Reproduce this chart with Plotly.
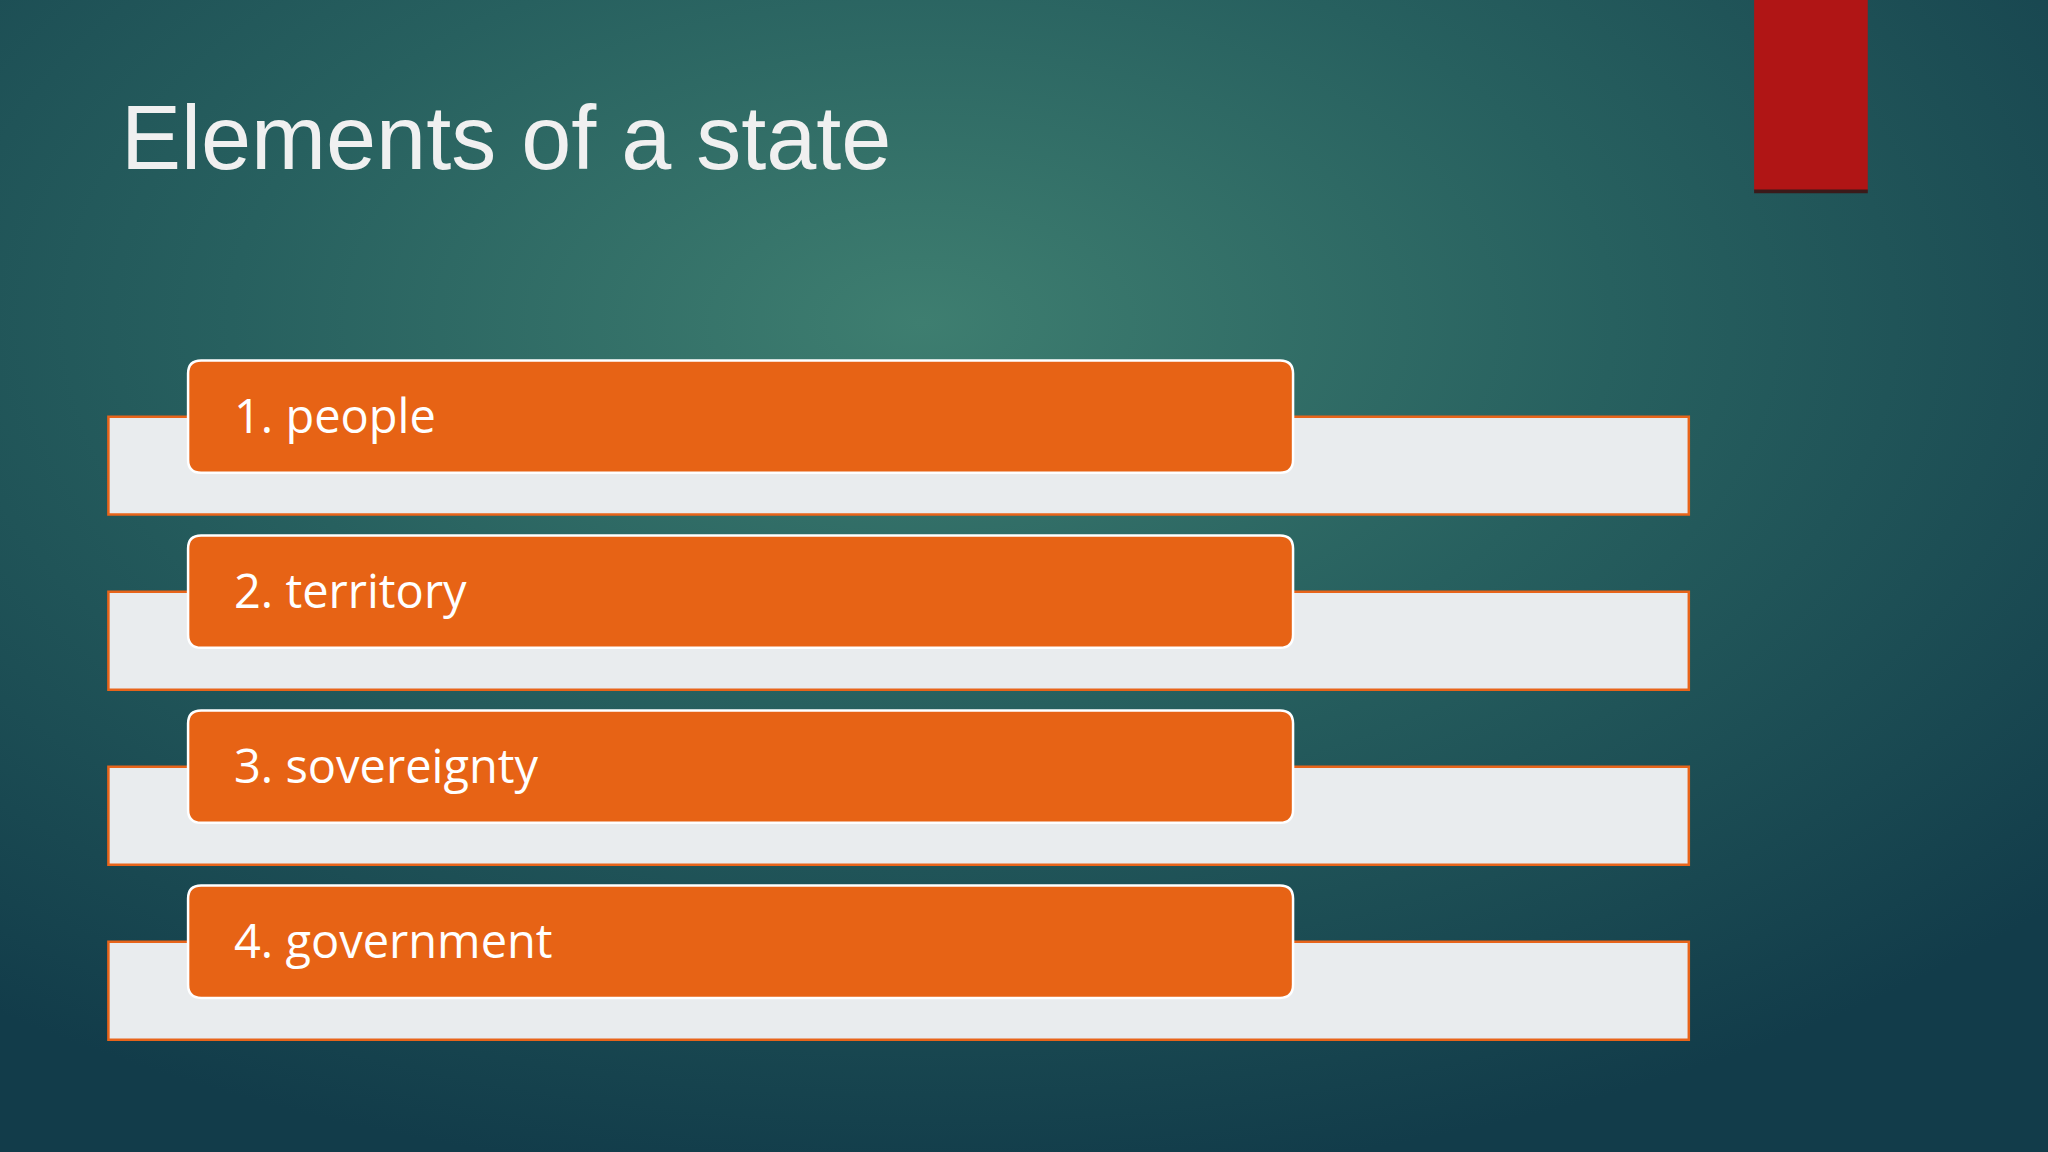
import plotly.graph_objects as go
import base64

title = "Elements of a state"
items = ["1. people", "2. territory", "3. sovereignty", "4. government"]

W, H = 1568, 882
svg = f'''<svg xmlns="http://www.w3.org/2000/svg" width="{W}" height="{H}">
<defs><radialGradient id="g" cx="0.45" cy="0.28" r="0.75">
<stop offset="0" stop-color="#3e7e70"/><stop offset="0.45" stop-color="#27605f"/>
<stop offset="1" stop-color="#123c4a"/></radialGradient></defs>
<rect width="{W}" height="{H}" fill="url(#g)"/></svg>'''
src = "data:image/svg+xml;base64," + base64.b64encode(svg.encode()).decode()

def rrect(x0, y0, x1, y1, r):
    return (f"M{x0+r},{y0} L{x1-r},{y0} Q{x1},{y0} {x1},{y0+r} L{x1},{y1-r} Q{x1},{y1} {x1-r},{y1} "
            f"L{x0+r},{y1} Q{x0},{y1} {x0},{y1-r} L{x0},{y0+r} Q{x0},{y0} {x0+r},{y0} Z")

fig = go.Figure()
shapes, ann = [], []
step = 134
for i, lab in enumerate(items):
    o = i * step
    shapes.append(dict(type="rect", x0=83, x1=1293, y0=319+o, y1=394+o, fillcolor="#e9ecee",
                       line=dict(color="#e8641a", width=2.5)))
    shapes.append(dict(type="path", path=rrect(144, 276+o, 990, 362+o, 10), fillcolor="#e76315",
                       line=dict(color="#ffffff", width=2.5)))
    ann.append(dict(x=178, y=318+o, text=lab, showarrow=False, xanchor="left", yanchor="middle",
                    font=dict(family="Open Sans", size=47, color="white")))
shapes.append(dict(type="rect", x0=1343, x1=1430, y0=-5, y1=146, fillcolor="#b01515", line=dict(width=0)))
shapes.append(dict(type="rect", x0=1343, x1=1430, y0=145, y1=148, fillcolor="#3a1a1a", line=dict(width=0)))
ann.append(dict(x=91, y=106, text=title, showarrow=False, xanchor="left", yanchor="middle",
                font=dict(family="Liberation Sans", size=90, color="#f0f0f0")))

fig.add_trace(go.Scatter(x=[0, W], y=[0, H], mode="markers", marker=dict(opacity=0), hoverinfo="skip"))
fig.update_layout(width=2048, height=1152, margin=dict(l=0, r=0, t=0, b=0), showlegend=False,
                  paper_bgcolor="#1d4d55", plot_bgcolor="rgba(0,0,0,0)",
                  xaxis=dict(range=[0, W], visible=False, fixedrange=True),
                  yaxis=dict(range=[H, 0], visible=False, fixedrange=True),
                  shapes=shapes, annotations=ann,
                  images=[dict(source=src, xref="x", yref="y", x=0, y=0, sizex=W, sizey=H,
                               sizing="stretch", layer="below", xanchor="left", yanchor="top")])
fig.write_html("out.html", config={"displayModeBar": False},
               post_script="document.body.style.margin='0';document.body.style.overflow='hidden';")
